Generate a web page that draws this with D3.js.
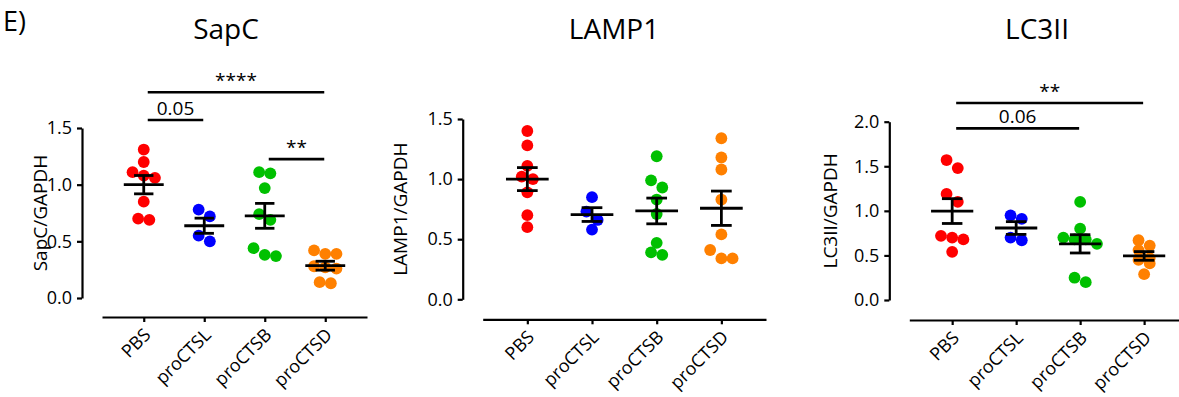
<!DOCTYPE html>
<html>
<head>
<meta charset="utf-8">
<script src="https://cdn.jsdelivr.net/npm/d3@7"></script>
<style>
  body { margin: 0; background: #fff; }
  svg { display: block; font-family: "Open Sans", "DejaVu Sans", sans-serif; }
</style>
</head>
<body>
<svg id="chart" width="1179" height="397"></svg>
<script>
const GROUPS = ["PBS", "proCTSL", "proCTSB", "proCTSD"];
const COLORS = ["#ff0000", "#0000ff", "#00c000", "#ff8000"];

// SapC / GAPDH
const sapcPBS  = [1.31, 1.20, 1.11, 1.08, 1.06, 0.85, 0.70, 0.69];
const sapcCTSL = [0.78, 0.72, 0.55, 0.50];
const sapcCTSB = [1.11, 1.10, 0.97, 0.74, 0.69, 0.44, 0.38, 0.37];
const sapcCTSD = [0.42, 0.39, 0.39, 0.28, 0.27, 0.26, 0.14, 0.13];

// LAMP1 / GAPDH
const lampPBS  = [1.40, 1.28, 1.11, 1.02, 1.00, 0.89, 0.70, 0.60];
const lampCTSL = [0.85, 0.73, 0.66, 0.58];
const lampCTSB = [1.19, 0.99, 0.93, 0.83, 0.71, 0.47, 0.39, 0.37];
const lampCTSD = [1.34, 1.18, 1.08, 0.83, 0.54, 0.41, 0.34, 0.34];

// LC3II / GAPDH
const lc3PBS  = [1.57, 1.48, 1.19, 1.10, 0.72, 0.70, 0.68, 0.54];
const lc3CTSL = [0.95, 0.91, 0.70, 0.67];
const lc3CTSB = [1.10, 0.80, 0.70, 0.68, 0.68, 0.63, 0.25, 0.20];
const lc3CTSD = [0.67, 0.61, 0.56, 0.47, 0.45, 0.41, 0.29];

const sapcTicks = [0, 0.5, 1.0, 1.5];
const lampTicks = [0, 0.5, 1.0, 1.5];
const lc3Ticks  = [0, 0.5, 1.0, 1.5, 2.0];

// significance brackets: [from group, to group, height (data units), label]
const sapcSig = [[0, 3, 1.815, "****"], [0, 1, 1.57, "0.05"], [2, 3, 1.225, "**"]];
const lampSig = [];
const lc3Sig  = [[0, 3, 2.21, "**"], [0, 2, 1.925, "0.06"]];

const svg = d3.select("#chart");

svg.append("text")
    .attr("x", 3).attr("y", 31)
    .style("font-size", "27px")
    .text("E)");

function mean(a) { return d3.mean(a); }
function sem(a) { return d3.deviation(a) / Math.sqrt(a.length); }

// rough Prism-like scatter: points at about the same height share a row
function swarm(values, y, rowGap, spread) {
    const pts = values.map(v => ({ v: v, py: y(v) })).sort((a, b) => a.py - b.py);
    const rows = [];
    pts.forEach(p => {
        const row = rows[rows.length - 1];
        if (row && p.py - row[0].py < rowGap) row.push(p);
        else rows.push([p]);
    });
    rows.forEach(row => row.forEach((p, i) => { p.dx = (i - (row.length - 1) / 2) * spread; }));
    return pts;
}

function panel(cfg) {
    const y = d3.scaleLinear().domain([0, cfg.yMax]).range([cfg.yBottom, cfg.yTop]);
    const x = d3.scalePoint().domain(GROUPS).range(cfg.xRange).padding(cfg.xPad);
    const step = x.step();

    svg.append("text")
        .attr("x", cfg.titleX).attr("y", 39)
        .attr("text-anchor", "middle")
        .style("font-size", "28px")
        .text(cfg.title);

    const yAxis = svg.append("g")
        .attr("transform", "translate(" + cfg.axisX + ",0)")
        .call(d3.axisLeft(y).tickValues(cfg.ticks).tickFormat(d3.format(".1f"))
            .tickSize(5).tickSizeOuter(0).tickPadding(5));

    const xAxis = svg.append("g")
        .attr("transform", "translate(0," + cfg.axisY + ")")
        .call(d3.axisBottom(x).tickSize(5).tickSizeOuter(0).tickFormat(""));

    [yAxis, xAxis].forEach(g => {
        g.selectAll("path, line").attr("stroke", "#000").attr("stroke-width", 2.2);
    });
    yAxis.selectAll("text")
        .attr("fill", "#000")
        .style("font-size", "18px")
        .style("font-family", "'Open Sans', sans-serif");

    svg.append("g").selectAll("text")
        .data(GROUPS)
        .enter()
        .append("text")
        .attr("text-anchor", "end")
        .attr("transform", d => "translate(" + (x(d) + 8) + "," + (cfg.axisY + 19) + ") rotate(-45)")
        .style("font-size", "18px")
        .text(d => d);

    svg.append("text")
        .attr("transform", "translate(" + cfg.labelX + "," + ((cfg.yBottom + cfg.yTop) / 2) + ") rotate(-90)")
        .attr("text-anchor", "middle")
        .attr("dy", "0.35em")
        .style("font-size", "19px")
        .text(cfg.yLabel);

    cfg.series.forEach((vals, i) => {
        const cx = x(GROUPS[i]);
        const pts = swarm(vals, y, 8.5, 11.2);
        svg.append("g").selectAll("circle")
            .data(pts)
            .enter()
            .append("circle")
            .attr("cx", d => cx + d.dx)
            .attr("cy", d => d.py)
            .attr("r", 5.9)
            .attr("fill", COLORS[i]);

        const m = mean(vals), e = sem(vals);
        const g = svg.append("g").attr("stroke", "#000").attr("stroke-width", 2.8).attr("fill", "none");
        const half = step * 0.33, cap = step * 0.16;
        g.append("line").attr("x1", cx - half).attr("x2", cx + half).attr("y1", y(m)).attr("y2", y(m));
        g.append("line").attr("x1", cx).attr("x2", cx).attr("y1", y(m + e)).attr("y2", y(m - e));
        g.append("line").attr("x1", cx - cap).attr("x2", cx + cap).attr("y1", y(m + e)).attr("y2", y(m + e));
        g.append("line").attr("x1", cx - cap).attr("x2", cx + cap).attr("y1", y(m - e)).attr("y2", y(m - e));
    });

    cfg.sig.forEach(s => {
        const x1 = x(GROUPS[s[0]]) + 4, x2 = x(GROUPS[s[1]]) - 1, yy = y(s[2]);
        svg.append("line")
            .attr("x1", x1).attr("x2", x2).attr("y1", yy).attr("y2", yy)
            .attr("stroke", "#000").attr("stroke-width", 2.6);
        svg.append("text")
            .attr("x", (x1 + x2) / 2).attr("y", yy - 5)
            .attr("text-anchor", "middle")
            .style("font-size", "19px")
            .text(s[3]);
    });
}

panel({
    title: "SapC", titleX: 226, yLabel: "SapC/GAPDH", labelX: 40,
    yMax: 1.5, yBottom: 298, yTop: 128, ticks: sapcTicks, axisX: 82,
    xRange: [102, 367], xPad: 0.69, axisY: 317,
    series: [sapcPBS, sapcCTSL, sapcCTSB, sapcCTSD], sig: sapcSig
});

panel({
    title: "LAMP1", titleX: 614, yLabel: "LAMP1/GAPDH", labelX: 400,
    yMax: 1.5, yBottom: 299.3, yTop: 119, ticks: lampTicks, axisX: 462.7,
    xRange: [482.7, 766], xPad: 0.69, axisY: 319.3,
    series: [lampPBS, lampCTSL, lampCTSB, lampCTSD], sig: lampSig
});

panel({
    title: "LC3II", titleX: 1037, yLabel: "LC3II/GAPDH", labelX: 830,
    yMax: 2.0, yBottom: 300, yTop: 121.7, ticks: lc3Ticks, axisX: 889.3,
    xRange: [909.3, 1187], xPad: 0.67, axisY: 320,
    series: [lc3PBS, lc3CTSL, lc3CTSB, lc3CTSD], sig: lc3Sig
});
</script>
</body>
</html>
